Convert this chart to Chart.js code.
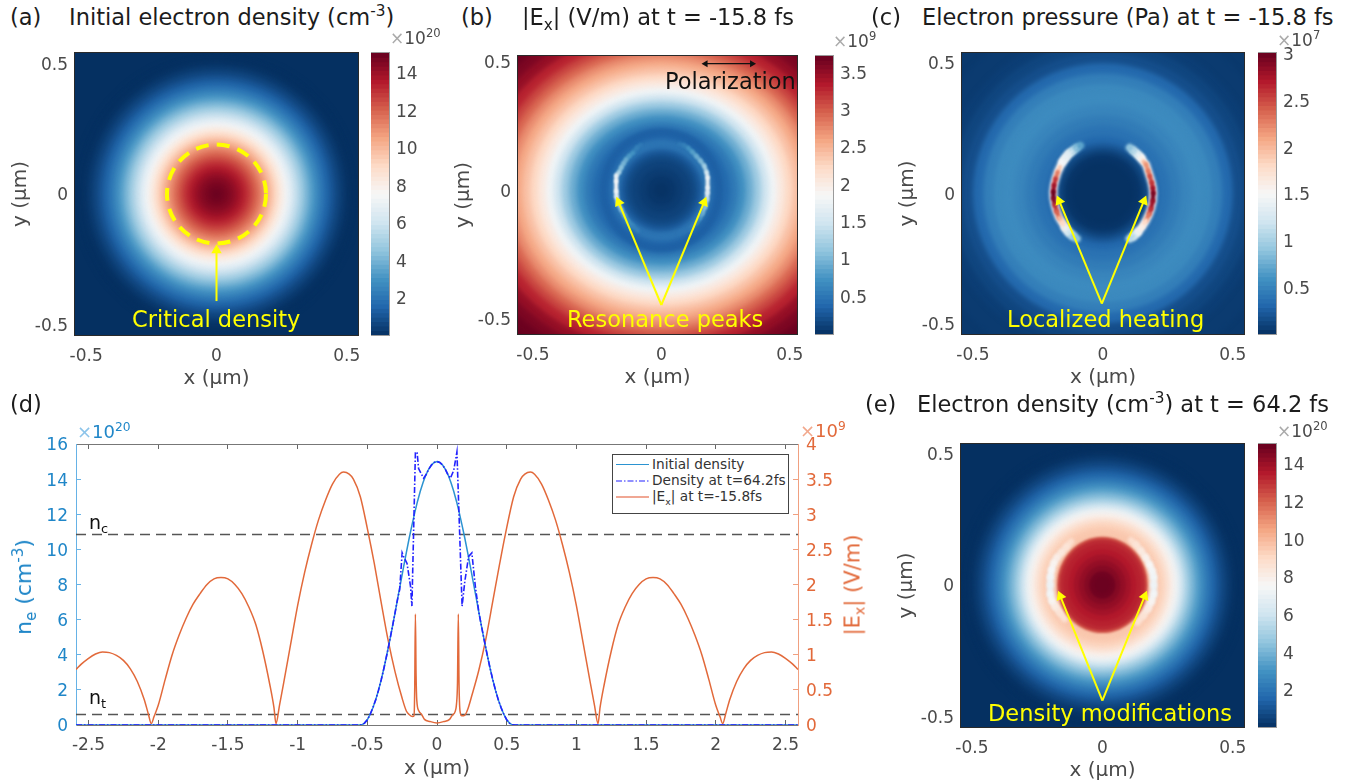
<!DOCTYPE html>
<html lang="en">
<head>
<meta charset="utf-8">
<title>Electron density and field maps</title>
<script src="https://cdn.jsdelivr.net/npm/chart.js"></script>
<style>
  body { margin: 0; background: #fff; width: 1359px; height: 783px; overflow: hidden; position: relative; font-family: "DejaVu Sans", sans-serif; }
  canvas { position: absolute; }
  .txt { position: absolute; white-space: nowrap; transform: translateY(-50%); line-height: 1; }
  .rot { position: absolute; white-space: nowrap; transform: translate(-50%, -50%) rotate(-90deg); line-height: 1; }
  sup { font-size: .68em; line-height: 0; }
  sub { font-size: .68em; line-height: 0; }
  #legend { position: absolute; left: 612px; top: 454px; width: 175px; height: 58px; background: #fff; border: 1px solid #444; font-size: 13.7px; color: #333; z-index: 4; }
  #legend div { position: absolute; left: 39px; white-space: nowrap; line-height: 1; transform: translateY(-50%); }
  #legend svg { position: absolute; left: 3px; top: 0; }
</style>
</head>
<body>

<div id="legend">
  <svg width="34" height="58">
    <line x1="0" x2="33" y1="9.5" y2="9.5" stroke="#2b93d1" stroke-width="1.2"/>
    <line x1="0" x2="33" y1="26" y2="26" stroke="#2222ff" stroke-width="1.2" stroke-dasharray="6 2 1.5 2"/>
    <line x1="0" x2="33" y1="42" y2="42" stroke="#e2502a" stroke-width="1.2"/>
  </svg>
  <div style="top:10px">Initial density</div>
  <div style="top:26px">Density at t=64.2fs</div>
  <div style="top:42px">|E<sub>x</sub>| at t=-15.8fs</div>
</div>

<script>
// colour map of the maps and colour bars
const rdbu = ['#053061','#2166ac','#4393c3','#92c5de','#d1e5f0','#f7f7f7','#fddbc7','#f4a582','#d6604d','#b2182b','#67001f'];

// panel (d), density in 1e20 cm-3
const densX = [-2.59,-0.56,-0.54,-0.52,-0.5,-0.48,-0.46,-0.44,-0.42,-0.4,-0.38,-0.36,-0.34,-0.32,-0.3,-0.28,-0.26,-0.24,-0.22,-0.2,-0.18,-0.16,-0.14,-0.12,-0.1,-0.08,-0.06,-0.04,-0.02,0,0.02,0.04,0.06,0.08,0.1,0.12,0.14,0.16,0.18,0.2,0.22,0.24,0.26,0.28,0.3,0.32,0.34,0.36,0.38,0.4,0.42,0.44,0.46,0.48,0.5,0.52,0.54,0.56,2.59];
const densInit = [0,0,0.01,0.11,0.3,0.6,0.98,1.43,1.97,2.58,3.26,4,4.78,5.59,6.43,7.29,8.14,8.99,9.82,10.62,11.37,12.08,12.73,13.31,13.81,14.23,14.56,14.8,14.95,15,14.95,14.8,14.56,14.23,13.81,13.31,12.73,12.08,11.37,10.62,9.82,8.99,8.14,7.29,6.43,5.59,4.78,4,3.26,2.58,1.97,1.43,0.98,0.6,0.3,0.11,0.01,0,0];
const modX = [-2.59,-0.56,-0.54,-0.52,-0.5,-0.48,-0.46,-0.44,-0.42,-0.4,-0.38,-0.36,-0.34,-0.32,-0.3,-0.28,-0.268,-0.25,-0.24,-0.215,-0.19,-0.18,-0.155,-0.143,-0.132,-0.096,-0.08,-0.06,-0.04,-0.02,0,0.02,0.04,0.06,0.08,0.096,0.12,0.143,0.18,0.2,0.227,0.25,0.275,0.3,0.32,0.34,0.36,0.38,0.4,0.42,0.44,0.46,0.48,0.5,0.52,0.54,0.56,2.59];
const modY = [0,0,0.01,0.11,0.3,0.6,0.98,1.43,1.97,2.58,3.26,4,4.78,5.59,6.43,7.29,7.7,9.8,9.6,9.2,7.9,6.77,15.5,15.55,14.6,14.05,14.23,14.56,14.8,14.95,15,14.95,14.8,14.56,14.23,14.05,14.5,15.55,6.77,8.2,9.6,9.8,7.9,6.43,5.59,4.78,4,3.26,2.58,1.97,1.43,0.98,0.6,0.3,0.11,0.01,0,0];

// panel (d), |Ex| in 1e9 V/m
const fieldX = [-2.59,-2.55,-2.5,-2.45,-2.4,-2.35,-2.3,-2.25,-2.2,-2.15,-2.1,-2.07,-2.05,-2.03,-2,-1.95,-1.9,-1.85,-1.8,-1.75,-1.7,-1.65,-1.6,-1.55,-1.5,-1.45,-1.4,-1.35,-1.3,-1.25,-1.2,-1.17,-1.155,-1.13,-1.1,-1.05,-1,-0.95,-0.9,-0.85,-0.8,-0.75,-0.7,-0.67,-0.63,-0.6,-0.55,-0.5,-0.45,-0.4,-0.35,-0.3,-0.25,-0.22,-0.2,-0.175,-0.165,-0.16,-0.155,-0.15,-0.145,-0.13,-0.11,-0.09,-0.05,0,0.05,0.09,0.11,0.13,0.14,0.147,0.153,0.158,0.165,0.178,0.2,0.22,0.25,0.3,0.35,0.4,0.45,0.49,0.55,0.6,0.63,0.67,0.7,0.75,0.8,0.85,0.9,0.95,1,1.05,1.1,1.13,1.155,1.17,1.2,1.25,1.3,1.35,1.4,1.45,1.5,1.55,1.6,1.65,1.7,1.75,1.8,1.85,1.9,1.95,2,2.03,2.05,2.07,2.1,2.15,2.2,2.25,2.3,2.35,2.4,2.45,2.5,2.55,2.59];
const fieldY = [0.79,0.87,0.95,1.01,1.04,1.03,0.99,0.92,0.8,0.62,0.36,0.15,0.02,0.12,0.28,0.65,1,1.28,1.52,1.72,1.87,2,2.08,2.1,2.08,2,1.87,1.68,1.43,1.05,0.58,0.25,0.02,0.28,0.6,1.15,1.7,2.17,2.57,2.92,3.2,3.43,3.57,3.6,3.57,3.5,3.25,2.8,2.3,1.74,1.2,0.75,0.38,0.2,0.15,0.12,0.13,0.5,1.58,0.7,0.35,0.2,0.15,0.08,0.05,0.03,0.05,0.08,0.14,0.19,0.3,0.6,1.58,0.6,0.2,0.13,0.14,0.22,0.42,0.78,1.22,1.76,2.3,2.71,3.25,3.5,3.57,3.6,3.57,3.43,3.2,2.92,2.57,2.17,1.7,1.15,0.6,0.28,0.02,0.25,0.58,1.05,1.43,1.68,1.87,2,2.08,2.1,2.08,2,1.87,1.72,1.52,1.28,1,0.65,0.28,0.12,0.02,0.15,0.36,0.62,0.8,0.92,0.99,1.03,1.04,1.01,0.95,0.87,0.79];

const critX = [-2.59, 2.59];
const critY = [10.85, 10.85];
const transY = [0.6, 0.6];

const dTicksX = [-2.5,-2,-1.5,-1,-0.5,0,0.5,1,1.5,2,2.5];
const dTicksL = [0,2,4,6,8,10,12,14,16];
const dTicksR = [0,0.5,1,1.5,2,2.5,3,3.5,4];
const mapTicks = [-0.5,0,0.5];

// panel (a), radial profile
const aRadius = [0.02,0.04,0.06,0.08,0.1,0.12,0.14,0.16,0.18,0.2,0.22,0.24,0.26,0.28,0.3,0.32,0.34,0.36,0.38,0.4,0.42,0.44,0.46,0.48,0.5,0.52,0.54,1.0];
const aValue  = [15,14.8,14.56,14.23,13.81,13.31,12.73,12.08,11.37,10.62,9.82,8.99,8.14,7.29,6.43,5.59,4.78,4,3.26,2.58,1.97,1.43,0.98,0.6,0.3,0.11,0.05,0];

// panel (b), inner rings are round, outer ones a little flattened
const bInnerR = [0.03,0.06,0.09,0.12,0.14,0.16,0.18,0.2,0.22,0.24];
const bInnerV = [0.03,0.06,0.1,0.14,0.2,0.3,0.5,0.5,0.36,0.34];
const bOuterR = [0.27,0.3,0.33,0.36,0.39,0.42,0.45,0.48,0.51,0.54,0.57,0.6,0.63,0.66,0.7,0.74,0.78,0.82,1.1];
const bOuterV = [0.42,0.55,0.72,0.95,1.2,1.5,1.8,2.05,2.25,2.42,2.58,2.75,2.95,3.12,3.3,3.5,3.62,3.7,3.73];
const bLeftX = [-0.08,-0.095,-0.11,-0.125,-0.137,-0.147,-0.156,-0.165,-0.175,-0.176,-0.176,-0.176,-0.175,-0.168,-0.156,-0.143,-0.13,-0.11,-0.09];
const bLeftY = [0.177,0.165,0.146,0.133,0.12,0.105,0.089,0.07,0.057,0.035,0.015,-0.005,-0.025,-0.05,-0.076,-0.1,-0.12,-0.14,-0.158];
const bLeftV = [0.55,0.6,0.75,0.8,0.95,1,1.1,1.3,1.75,1.85,1.85,1.8,1.6,1.2,1,0.8,0.7,0.6,0.55];
const bRightX = [0.07,0.088,0.104,0.12,0.136,0.152,0.167,0.176,0.18,0.18,0.18,0.18,0.178,0.17,0.16,0.148,0.136,0.11,0.07];
const bRightY = [0.18,0.175,0.165,0.15,0.133,0.115,0.095,0.07,0.05,0.03,0.01,-0.01,-0.035,-0.065,-0.09,-0.11,-0.127,-0.15,-0.165];
const bRightV = [0.55,0.6,0.75,0.85,0.95,1.05,1.25,1.6,1.8,1.8,1.75,1.6,1.3,1.05,0.9,0.7,0.6,0.5,0.5];

// panel (c)
const cRadius = [0.12,0.15,0.17,0.19,0.22,0.26,0.3,0.34,0.38,0.42,0.46,0.5,0.54,0.58,0.62,0.7,1.0];
const cValue  = [0.02,0.04,0.12,0.22,0.33,0.4,0.46,0.52,0.56,0.55,0.48,0.34,0.18,0.13,0.09,0.07,0.06];
const cLeftX = [-0.087,-0.103,-0.119,-0.132,-0.144,-0.155,-0.165,-0.174,-0.182,-0.188,-0.191,-0.19,-0.185,-0.178,-0.168,-0.157,-0.145,-0.132,-0.117,-0.1];
const cLeftY = [0.182,0.172,0.16,0.15,0.135,0.12,0.1,0.08,0.055,0.03,0.005,-0.02,-0.045,-0.07,-0.095,-0.112,-0.133,-0.15,-0.163,-0.175];
const cLeftV = [0.7,0.9,1.2,1.35,1.4,1.5,1.9,2.3,2.6,2.8,3,2.9,2.6,2.4,2,1.8,1.4,1.2,0.9,0.7];
const cRightX = [0.103,0.118,0.134,0.147,0.157,0.166,0.174,0.18,0.188,0.192,0.194,0.192,0.185,0.178,0.166,0.152,0.134,0.118,0.103];
const cRightY = [0.174,0.162,0.148,0.135,0.12,0.11,0.085,0.066,0.04,0.02,0,-0.03,-0.06,-0.08,-0.105,-0.128,-0.15,-0.165,-0.175];
const cRightV = [0.9,1.1,1.4,1.6,2,2.2,2.3,2.5,2.6,2.8,2.95,2.8,2.6,2.3,1.8,1.6,1.4,1.1,0.9];

// panel (e), sharp core then the modified shoulder
const eCoreR = [0.03,0.05,0.07,0.09,0.11,0.13,0.15,0.165,0.174];
const eCoreV = [15,14.9,14.5,14.2,13.9,13.6,13.4,13.2,12.4];
const eOuterR = [0.2,0.22,0.24,0.26,0.28,0.3,0.32,0.34,0.36,0.38,0.4,0.42,0.44,0.46,0.48,0.5,0.52,0.54,1.0];
const eOuterV = [9.7,9.6,9.3,8.7,7.9,7,5.8,4.78,4,3.26,2.58,1.97,1.43,0.98,0.6,0.3,0.11,0.05,0];
const eLeftX = [-0.12,-0.137,-0.157,-0.174,-0.186,-0.195,-0.199,-0.2,-0.2,-0.193,-0.18,-0.163,-0.145];
const eLeftY = [0.165,0.146,0.124,0.105,0.084,0.058,0.03,0,-0.034,-0.061,-0.083,-0.105,-0.13];
const eLeftV = [8.8,8.6,8.4,8.1,7.8,7.5,7.3,7.2,7.4,7.8,8.3,8.7,9];
const eRightX = [0.11,0.129,0.148,0.166,0.181,0.191,0.196,0.197,0.197,0.188,0.175,0.156,0.135];
const eRightY = [0.17,0.153,0.13,0.105,0.077,0.053,0.03,0,-0.034,-0.063,-0.09,-0.116,-0.143];
const eRightV = [8.8,8.6,8.3,7.9,7.6,7.4,7.3,7.2,7.4,7.8,8.3,8.7,9];

// arrows: tail x, tail y, head x, head y
const aArrow = [[0,-0.41,0,-0.215]];
const bArrows = [[0,-0.447,-0.166,-0.047],[0,-0.447,0.166,-0.047]];
const cArrows = [[-0.004,-0.424,-0.168,-0.03],[-0.004,-0.424,0.158,-0.03]];
const eArrows = [[0,-0.44,-0.161,-0.043],[0,-0.44,0.162,-0.043]];
const polarization = [0.172,0.493,0.353,0.493];

Chart.defaults.font.family = '"DejaVu Sans", sans-serif';
Chart.defaults.animation = false;
Chart.defaults.events = [];
Chart.defaults.plugins.legend.display = false;
Chart.defaults.plugins.tooltip.enabled = false;

const tickColor = '#4a4a4a';
const yellow = '#ffff00';

function colorAt(v, min, max) {
  const t = Math.min(1, Math.max(0, (v - min) / (max - min))) * (rdbu.length - 1);
  const i = Math.min(rdbu.length - 2, Math.floor(t));
  const hex = s => [1, 3, 5].map(k => parseInt(s.substr(k, 2), 16));
  const a = hex(rdbu[i]), b = hex(rdbu[i + 1]), f = t - i;
  return 'rgb(' + a.map((c, k) => Math.round(c + (b[k] - c) * f)).join(',') + ')';
}

// scatter points drawn as iso-value discs, can flatten and soften them
class RingController extends Chart.ScatterController {
  draw() {
    const ds = this.getDataset();
    const ctx = this.chart.ctx;
    const cy = this.chart.scales.y.getPixelForValue(0);
    ctx.save();
    if (ds.blur) ctx.filter = 'blur(' + ds.blur + 'px)';
    if (ds.dash) ctx.setLineDash(ds.dash);
    ctx.translate(0, cy);
    ctx.scale(1, ds.squash || 1);
    ctx.translate(0, -cy);
    super.draw();
    ctx.restore();
  }
}
RingController.id = 'rings';
RingController.defaults = Chart.ScatterController.defaults;
RingController.overrides = Chart.ScatterController.overrides;
Chart.register(RingController);

function addCanvas(left, top, w, h) {
  const c = document.createElement('canvas');
  c.width = w;
  c.height = h;
  c.style.left = left + 'px';
  c.style.top = top + 'px';
  document.body.appendChild(c);
  return c;
}

function label(html, x, y, size, color) {
  const d = document.createElement('div');
  d.className = 'txt';
  d.innerHTML = html;
  d.style.cssText = 'left:' + x + 'px;top:' + y + 'px;font-size:' + size + 'px;color:' + color + ';z-index:5';
  document.body.appendChild(d);
}

function rotated(html, x, y, size, color) {
  const d = document.createElement('div');
  d.className = 'rot';
  d.innerHTML = html;
  d.style.cssText = 'left:' + x + 'px;top:' + y + 'px;font-size:' + size + 'px;color:' + color + ';z-index:5';
  document.body.appendChild(d);
}

function frame(color) {
  return {
    id: 'frame',
    afterDraw(chart) {
      const a = chart.chartArea, ctx = chart.ctx;
      ctx.save();
      ctx.strokeStyle = color;
      ctx.lineWidth = 1;
      ctx.strokeRect(a.left - 0.5, a.top - 0.5, a.right - a.left + 1, a.bottom - a.top + 1);
      ctx.restore();
    }
  };
}

// keep the plot rectangle exact, no room made for the outer tick labels
function noLabelPadding(s) {
  s.paddingLeft = s.paddingRight = s.paddingTop = s.paddingBottom = 0;
}

function pairs(xs, ys) {
  return xs.map((x, i) => ({ x: x, y: ys[i] }));
}

function ringSet(radii, values, range, squash, blur) {
  const r = radii.slice().reverse();
  const v = values.slice().reverse();
  return {
    type: 'rings',
    data: r.map(() => ({ x: 0, y: 0 })),
    pointRadius: ctx => {
      const sx = ctx.chart.scales.x;
      return sx.getPixelForValue(r[ctx.dataIndex]) - sx.getPixelForValue(0);
    },
    pointBackgroundColor: v.map(k => colorAt(k, range[0], range[1])),
    pointBorderWidth: 0,
    squash: squash,
    blur: blur,
    clip: 0
  };
}

// a thin bright arc whose colour follows the values along it
function arcSet(xs, ys, vs, range, width, blur) {
  const colors = vs.map(k => colorAt(k, range[0], range[1]));
  return {
    type: 'rings',
    showLine: true,
    data: pairs(xs, ys),
    pointRadius: 0,
    borderWidth: width,
    borderCapStyle: 'round',
    borderJoinStyle: 'round',
    borderColor: colors[0],
    segment: { borderColor: c => colors[c.p0DataIndex] },
    blur: blur,
    clip: 0
  };
}

function arrowSet(a, color, width) {
  const deg = Math.atan2(a[2] - a[0], a[3] - a[1]) * 180 / Math.PI;
  return {
    type: 'scatter',
    showLine: true,
    data: [{ x: a[0], y: a[1] }, { x: a[2], y: a[3] }],
    borderColor: color,
    borderWidth: width,
    pointStyle: 'triangle',
    pointRadius: [0, 6],
    pointRotation: [0, deg],
    pointBackgroundColor: color,
    pointBorderWidth: 0
  };
}

function mapChart(rect, xRange, yRange, sets) {
  const mL = 76, mT = 12, mR = 24, mB = 56;
  const cv = addCanvas(rect[0] - mL, rect[1] - mT, rect[2] - rect[0] + mL + mR, rect[3] - rect[1] + mT + mB);
  sets.forEach((s, i) => { s.order = sets.length - i; });
  return new Chart(cv, {
    type: 'scatter',
    data: { datasets: sets },
    options: {
      responsive: false,
      layout: { autoPadding: false, padding: { top: mT, right: mR } },
      scales: {
        x: {
          type: 'linear', min: xRange[0], max: xRange[1],
          afterBuildTicks: s => { s.ticks = mapTicks.map(v => ({ value: v })); },
          afterFit: s => { s.height = mB; noLabelPadding(s); },
          grid: { display: false, drawTicks: false },
          border: { display: false },
          ticks: { color: tickColor, font: { size: 17 }, padding: 11, maxRotation: 0, autoSkip: false, callback: v => String(v) },
          title: { display: true, text: 'x (µm)', color: tickColor, font: { size: 20 }, padding: { top: 0, bottom: 0 } }
        },
        y: {
          type: 'linear', min: yRange[0], max: yRange[1],
          afterBuildTicks: s => { s.ticks = mapTicks.map(v => ({ value: v })); },
          afterFit: s => { s.width = mL; noLabelPadding(s); },
          grid: { display: false, drawTicks: false },
          border: { display: false },
          ticks: { color: tickColor, font: { size: 17 }, padding: 7, labelOffset: 2, autoSkip: false, callback: v => String(v) },
          title: { display: true, text: 'y (µm)', color: tickColor, font: { size: 20 }, padding: { top: 10, bottom: 0 } }
        }
      }
    },
    plugins: [frame('#2a2a2a')]
  });
}

function colorBar(left, top, bottom, range, ticks) {
  const levels = 64, step = (range[1] - range[0]) / levels, pad = 12;
  const sets = [];
  for (let i = 0; i < levels; i++) {
    const lo = range[0] + i * step;
    sets.push({
      data: [[lo, Math.min(range[1], lo + step * 1.05)]],
      backgroundColor: colorAt(lo + step / 2, range[0], range[1]),
      borderWidth: 0,
      barPercentage: 1,
      categoryPercentage: 1,
      grouped: false,
      order: levels - i
    });
  }
  const cv = addCanvas(left, top - pad, 18 + 56, bottom - top + 2 * pad);
  return new Chart(cv, {
    type: 'bar',
    data: { labels: [''], datasets: sets },
    options: {
      responsive: false,
      layout: { autoPadding: false, padding: { top: pad, bottom: pad } },
      scales: {
        x: { display: false },
        y: {
          position: 'right', min: range[0], max: range[1],
          afterBuildTicks: s => { s.ticks = ticks.map(v => ({ value: v })); },
          afterFit: s => { s.width = 56; noLabelPadding(s); },
          grid: { drawOnChartArea: false, tickLength: -3, color: '#666' },
          border: { display: false },
          ticks: { color: tickColor, font: { size: 17 }, padding: 10, labelOffset: 1, autoSkip: false, callback: v => String(v) }
        }
      }
    },
    plugins: [frame('#9a9a9a')]
  });
}

// ---- map panels
const rangeA = [0.08, 15.1];
const rangeB = [0.01, 3.73];
const rangeC = [0.01, 3.02];

mapChart([75, 53, 358, 335], [-0.543, 0.543], [-0.54, 0.54], [
  ringSet(aRadius, aValue, rangeA, 1, 2.5),
  {
    type: 'rings', data: [{ x: 0, y: 0 }],
    pointRadius: ctx => ctx.chart.scales.x.getPixelForValue(0.19) - ctx.chart.scales.x.getPixelForValue(0),
    pointBackgroundColor: 'transparent', pointBorderColor: yellow, pointBorderWidth: 4,
    dash: [13, 8.2], clip: 0
  },
  arrowSet(aArrow[0], yellow, 2)
]);
colorBar(371, 53, 335, rangeA, [2, 4, 6, 8, 10, 12, 14]);

mapChart([518, 56, 797, 334], [-0.558, 0.528], [-0.56, 0.523], [
  ringSet(bOuterR, bOuterV, rangeB, 0.89, 2.5),
  ringSet(bInnerR, bInnerV, rangeB, 1, 2),
  arcSet(bLeftX, bLeftY, bLeftV, rangeB, 4, 1.2),
  arcSet(bRightX, bRightY, bRightV, rangeB, 4, 1.2),
  arrowSet(bArrows[0], yellow, 2),
  arrowSet(bArrows[1], yellow, 2),
  {
    type: 'scatter', showLine: true,
    data: [{ x: polarization[0], y: polarization[1] }, { x: polarization[2], y: polarization[3] }],
    borderColor: '#111', borderWidth: 1.3, pointStyle: 'triangle', pointRadius: 4,
    pointRotation: [-90, 90], pointBackgroundColor: '#111', pointBorderWidth: 0
  }
]);
colorBar(815, 56, 334, rangeB, [0.5, 1, 1.5, 2, 2.5, 3, 3.5]);

mapChart([962, 53, 1244, 334], [-0.542, 0.543], [-0.54, 0.537], [
  ringSet(cRadius, cValue, rangeC, 1, 2.5),
  arcSet(cLeftX, cLeftY, cLeftV.map(v => Math.min(v, 1.5)), rangeC, 8, 1.5),
  arcSet(cRightX, cRightY, cRightV.map(v => Math.min(v, 1.5)), rangeC, 8, 1.5),
  arcSet(cLeftX, cLeftY, cLeftV, rangeC, 4.5, 1),
  arcSet(cRightX, cRightY, cRightV, rangeC, 4.5, 1),
  arrowSet(cArrows[0], yellow, 2),
  arrowSet(cArrows[1], yellow, 2)
]);
colorBar(1258, 53, 334, rangeC, [0.5, 1, 1.5, 2, 2.5, 3]);

mapChart([961, 444, 1244, 727], [-0.542, 0.543], [-0.54, 0.536], [
  ringSet(eOuterR, eOuterV, rangeA, 1, 2.5),
  arcSet(eLeftX, eLeftY, eLeftV, rangeA, 6.5, 1.5),
  arcSet(eRightX, eRightY, eRightV, rangeA, 6.5, 1.5),
  ringSet(eCoreR, eCoreV, rangeA, 1.06, 1),
  arrowSet(eArrows[0], yellow, 2),
  arrowSet(eArrows[1], yellow, 2)
]);
colorBar(1258, 444, 727, rangeA, [2, 4, 6, 8, 10, 12, 14]);

// ---- line panel (d)
const blue = '#1f86c8', orange = '#e2693a';
const dSets = [
  { label: 'nc', data: pairs(critX, critY), yAxisID: 'yL', borderColor: '#555', borderWidth: 1.6, borderDash: [10, 6], showLine: true, pointRadius: 0 },
  { label: 'nt', data: pairs(critX, transY), yAxisID: 'yL', borderColor: '#555', borderWidth: 1.6, borderDash: [10, 6], showLine: true, pointRadius: 0 },
  { label: '|Ex| at t=-15.8fs', data: pairs(fieldX, fieldY), yAxisID: 'yR', borderColor: orange, borderWidth: 1.5, showLine: true, pointRadius: 0, cubicInterpolationMode: 'monotone' },
  { label: 'Initial density', data: pairs(densX, densInit), yAxisID: 'yL', borderColor: '#2b93d1', borderWidth: 1.5, showLine: true, pointRadius: 0 },
  { label: 'Density at t=64.2fs', data: pairs(modX, modY), yAxisID: 'yL', borderColor: '#2222ff', borderWidth: 1.6, borderDash: [6, 2, 1.5, 2], showLine: true, pointRadius: 0 }
];
dSets.forEach((s, i) => { s.order = dSets.length - i; });

new Chart(addCanvas(0, 432, 862, 351), {
  type: 'scatter',
  data: { datasets: dSets },
  options: {
    responsive: false,
    layout: { autoPadding: false, padding: { top: 12 } },
    scales: {
      x: {
        type: 'linear', min: -2.59, max: 2.59,
        afterBuildTicks: s => { s.ticks = dTicksX.map(v => ({ value: v })); },
        afterFit: s => { s.height = 58; noLabelPadding(s); },
        grid: { drawOnChartArea: false, tickLength: -5, color: '#666' },
        border: { color: '#777' },
        ticks: { color: tickColor, font: { size: 17 }, padding: 15, maxRotation: 0, autoSkip: false, callback: v => String(v) },
        title: { display: true, text: 'x (µm)', color: tickColor, font: { size: 20 }, padding: { top: 0, bottom: 2 } }
      },
      xTop: {
        type: 'linear', position: 'top', min: -2.59, max: 2.59,
        afterBuildTicks: s => { s.ticks = dTicksX.map(v => ({ value: v })); },
        afterFit: s => { s.height = 0; noLabelPadding(s); },
        grid: { drawOnChartArea: false, tickLength: -5, color: '#666' },
        border: { color: '#777' },
        ticks: { display: false }
      },
      yL: {
        type: 'linear', position: 'left', min: 0, max: 16,
        afterBuildTicks: s => { s.ticks = dTicksL.map(v => ({ value: v })); },
        afterFit: s => { s.width = 76; noLabelPadding(s); },
        grid: { drawOnChartArea: false, tickLength: -5, color: '#66b2e6' },
        border: { color: '#66b2e6' },
        ticks: { color: blue, font: { size: 17 }, padding: 13, labelOffset: 2, autoSkip: false, callback: v => String(v) }
      },
      yR: {
        type: 'linear', position: 'right', min: 0, max: 4,
        afterBuildTicks: s => { s.ticks = dTicksR.map(v => ({ value: v })); },
        afterFit: s => { s.width = 64; noLabelPadding(s); },
        grid: { drawOnChartArea: false, tickLength: -5, color: '#f0a080' },
        border: { color: '#f0a080' },
        ticks: { color: orange, font: { size: 17 }, padding: 13, labelOffset: 2, autoSkip: false, callback: v => String(v) }
      }
    }
  }
});

// ---- panel titles and annotations
const ink = '#1c1c1c';
const titleSize = 22.5;
label('(a)', 10, 17, titleSize, ink);
label('Initial electron density (cm<sup>-3</sup>)', 69, 17, titleSize, ink);
label('(b)', 461, 17, titleSize, ink);
label('|E<sub>x</sub>| (V/m) at t = -15.8 fs', 522, 17, titleSize, ink);
label('(c)', 871, 17, titleSize, ink);
label('Electron pressure (Pa) at t = -15.8 fs', 922, 17, titleSize, ink);
label('(d)', 10, 404, titleSize, ink);
label('(e)', 865, 404, titleSize, ink);
label('Electron density (cm<sup>-3</sup>) at t = 64.2 fs', 917, 404, titleSize, ink);

const timesGrey = '<span style="color:#aaa">×</span>10';
label(timesGrey + '<sup>20</sup>', 390, 38, 17, tickColor);
label(timesGrey + '<sup>9</sup>', 833, 41, 17, tickColor);
label(timesGrey + '<sup>7</sup>', 1277, 40, 17, tickColor);
label(timesGrey + '<sup>20</sup>', 1277, 431, 17, tickColor);
label('<span style="color:#8cc4ea">×</span>10<sup>20</sup>', 77, 432, 18, blue);
label('<span style="color:#f2a88c">×</span>10<sup>9</sup>', 800, 431, 18, orange);

label('Critical density', 132, 319, 22.5, yellow);
label('Resonance peaks', 567, 319, 22.5, yellow);
label('Polarization', 665, 81, 22.5, '#111');
label('Localized heating', 1007, 319, 22.5, yellow);
label('Density modifications', 988, 713, 22.5, yellow);

label('n<sub>c</sub>', 89, 522, 19, '#111');
label('n<sub>t</sub>', 89, 697, 19, '#111');
rotated('n<sub>e</sub> (cm<sup>-3</sup>)', 24, 587, 22, blue);
rotated('|E<sub>x</sub>| (V/m)', 853, 585, 21, orange);
</script>
</body>
</html>
